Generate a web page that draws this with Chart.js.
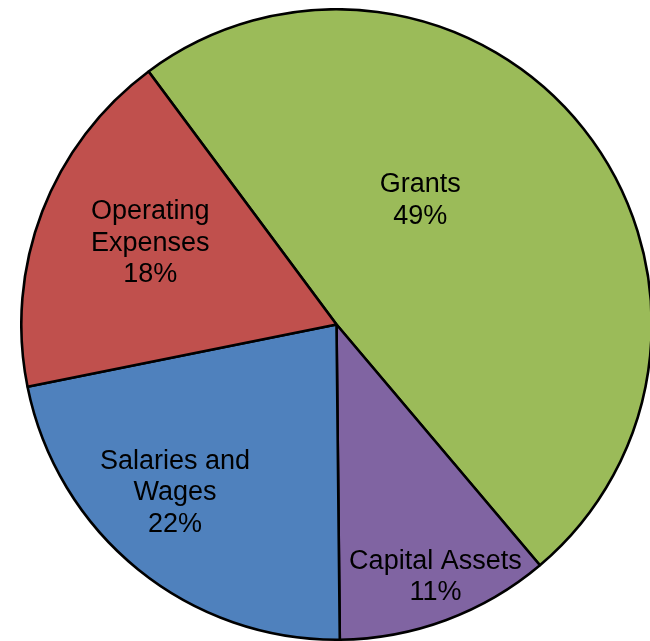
<!DOCTYPE html>
<html>
<head>
<meta charset="utf-8">
<script src="https://cdn.jsdelivr.net/npm/chart.js@4.4.1/dist/chart.umd.min.js"></script>
<style>
  html, body { margin: 0; padding: 0; background: #fff; overflow: hidden; }
  body { width: 650px; height: 641px; position: relative; }
  #wrap { position: absolute; left: 20px; top: 8px; width: 633px; height: 633px; }
</style>
</head>
<body>
<div id="wrap"><canvas id="pieChart"></canvas></div>
<script>
const categories = [["Grants"], ["Capital Assets"], ["Salaries and", "Wages"], ["Operating", "Expenses"]];
const shares = [49, 11, 22, 18];
const colors = ["#9BBB59", "#8064A2", "#4F81BD", "#C0504D"];

// where each label sits: shift from the slice's middle angle (deg) and distance as part of the radius
const labelSpots = [
    { turn: -17.5, dist: 0.474 },
    { turn: -1, dist: 0.86 },
    { turn: 4.8, dist: 0.74 },
    { turn: 2.6, dist: 0.645 }
];

const sliceLabels = {
    id: "sliceLabels",
    afterDatasetsDraw(chart) {
        const ctx = chart.ctx;
        const arcs = chart.getDatasetMeta(0).data;
        const total = shares.reduce((a, b) => a + b, 0);
        ctx.save();
        ctx.fillStyle = "#000";
        ctx.font = "27px 'Liberation Sans', Arial, sans-serif";
        ctx.textAlign = "center";
        ctx.textBaseline = "middle";
        arcs.forEach((arc, i) => {
            const p = arc.getProps(["x", "y", "startAngle", "endAngle", "outerRadius"], true);
            const mid = (p.startAngle + p.endAngle) / 2 + labelSpots[i].turn * Math.PI / 180;
            const r = p.outerRadius * labelSpots[i].dist;
            const cx = p.x + Math.cos(mid) * r;
            const cy = p.y + Math.sin(mid) * r;
            const lines = categories[i].concat([Math.round(shares[i] / total * 100) + "%"]);
            const lh = 31.5;
            const top = cy - (lines.length - 1) * lh / 2;
            lines.forEach((t, k) => ctx.fillText(t, cx, top + k * lh));
        });
        ctx.restore();
    }
};

new Chart(document.getElementById("pieChart"), {
    type: "pie",
    data: {
        labels: categories,
        datasets: [{
            data: shares,
            backgroundColor: colors,
            borderColor: "#000",
            borderWidth: 2.6
        }]
    },
    options: {
        responsive: true,
        maintainAspectRatio: false,
        animation: false,
        rotation: -36.6,
        layout: { padding: 0 },
        plugins: {
            legend: { display: false },
            tooltip: { enabled: false }
        }
    },
    plugins: [sliceLabels]
});
</script>
</body>
</html>
